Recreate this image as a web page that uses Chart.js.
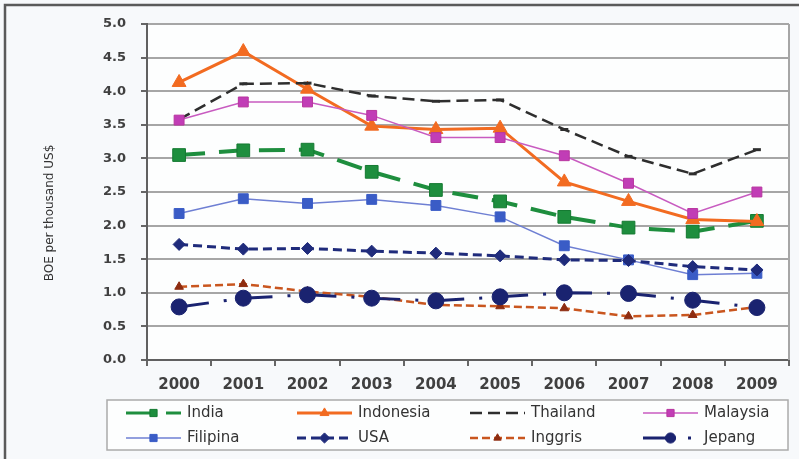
<!DOCTYPE html>
<html>
<head>
<meta charset="utf-8">
<title>BOE per thousand US$, 2000–2009</title>
<script src="https://cdn.jsdelivr.net/npm/chart.js@4/dist/chart.umd.min.js"></script>
<style>
  html, body { margin: 0; padding: 0; background: #F7F9FB; }
  #wrap { width: 799px; height: 459px; position: relative; }
  canvas { display: block; }
</style>
</head>
<body>
<div id="wrap"><canvas id="chart" width="799" height="459"></canvas></div>
<script>
// Years on the category axis
const years = ['2000', '2001', '2002', '2003', '2004', '2005', '2006', '2007', '2008', '2009'];

// Energy intensity per country (BOE per thousand US$)
const india     = [3.05, 3.12, 3.13, 2.80, 2.53, 2.36, 2.13, 1.97, 1.91, 2.07];
const indonesia = [4.13, 4.59, 4.03, 3.48, 3.43, 3.45, 2.65, 2.36, 2.09, 2.06];
const thailand  = [3.58, 4.11, 4.12, 3.93, 3.85, 3.87, 3.43, 3.03, 2.77, 3.13];
const malaysia  = [3.57, 3.84, 3.84, 3.64, 3.31, 3.31, 3.04, 2.63, 2.18, 2.50];
const filipina  = [2.18, 2.40, 2.33, 2.39, 2.30, 2.13, 1.70, 1.49, 1.27, 1.29];
const usa       = [1.72, 1.65, 1.66, 1.62, 1.59, 1.55, 1.49, 1.48, 1.39, 1.34];
const inggris   = [1.09, 1.13, 1.02, 0.94, 0.82, 0.80, 0.77, 0.65, 0.67, 0.79];
const jepang    = [0.79, 0.92, 0.97, 0.92, 0.88, 0.94, 1.00, 0.99, 0.89, 0.78];

// Country names shown in the legend
const countries = ['India', 'Indonesia', 'Thailand', 'Malaysia', 'Filipina', 'USA', 'Inggris', 'Jepang'];

// Value axis
const yMin = 0, yMax = 5, yStep = 0.5;
const yTitle = 'BOE per thousand US$';

const datasets = [
  { label: countries[0], data: india, borderColor: '#1E8E3E', borderWidth: 4, borderDash: [26, 14],
    pointStyle: 'rect', pointRadius: 9, pointBackgroundColor: '#1E8E3E', pointBorderColor: '#157A32', order: 7 },
  { label: countries[1], data: indonesia, borderColor: '#F26B21', borderWidth: 3, borderDash: [],
    pointStyle: 'triangle', pointRadius: 8, pointBackgroundColor: '#F26B21', pointBorderColor: '#F26B21', order: 6 },
  { label: countries[2], data: thailand, borderColor: '#2E2E2E', borderWidth: 2.5, borderDash: [12, 6],
    pointStyle: 'line', pointRadius: 4, pointBackgroundColor: '#2E2E2E', pointBorderColor: '#2E2E2E', pointBorderWidth: 3, order: 5 },
  { label: countries[3], data: malaysia, borderColor: '#C85BC0', borderWidth: 1.5, borderDash: [],
    pointStyle: 'rect', pointRadius: 7, pointBackgroundColor: '#C13DB6', pointBorderColor: '#B8359F', order: 4 },
  { label: countries[4], data: filipina, borderColor: '#6E7FD3', borderWidth: 1.5, borderDash: [],
    pointStyle: 'rect', pointRadius: 7, pointBackgroundColor: '#3A5CC6', pointBorderColor: '#3A5CC6', order: 3 },
  { label: countries[5], data: usa, borderColor: '#1F2B7B', borderWidth: 3, borderDash: [9, 5],
    pointStyle: 'rectRot', pointRadius: 6, pointBackgroundColor: '#1F2B7B', pointBorderColor: '#1F2B7B', order: 2 },
  { label: countries[6], data: inggris, borderColor: '#C9561F', borderWidth: 2.5, borderDash: [8, 4],
    pointStyle: 'triangle', pointRadius: 5, pointBackgroundColor: '#8E2C10', pointBorderColor: '#8E2C10', order: 1 },
  { label: countries[7], data: jepang, borderColor: '#1A2370', borderWidth: 3, borderDash: [30, 15, 3, 16],
    pointStyle: 'circle', pointRadius: 8, pointBackgroundColor: '#1A2370', pointBorderColor: '#1A2370', order: 0 }
];
datasets.forEach(d => { d.fill = false; d.tension = 0; if (d.pointBorderWidth === undefined) d.pointBorderWidth = 1; });

// Frame, plot background, y title and the 4-column legend
const decorations = {
  id: 'decorations',
  beforeDraw(chart) {
    const { ctx, chartArea: a } = chart;
    ctx.save();
    ctx.fillStyle = '#F7F9FB';
    ctx.fillRect(0, 0, chart.width, chart.height);
    ctx.fillStyle = '#FDFEFE';
    ctx.fillRect(a.left, a.top, a.right - a.left, a.bottom - a.top);
    ctx.restore();
  },
  afterDraw(chart) {
    const { ctx, chartArea: a } = chart;
    ctx.save();
    // outer frame (top and left edges)
    ctx.strokeStyle = '#5A5A5A';
    ctx.lineWidth = 2.5;
    ctx.beginPath();
    ctx.moveTo(799, 5); ctx.lineTo(5, 5); ctx.lineTo(5, 459);
    ctx.stroke();
    // right edge of plot area
    ctx.strokeStyle = '#A6A6A6';
    ctx.lineWidth = 2;
    ctx.beginPath();
    ctx.moveTo(a.right, a.top); ctx.lineTo(a.right, a.bottom);
    ctx.stroke();
    // y axis title
    ctx.translate(50, 213);
    ctx.rotate(-Math.PI / 2);
    ctx.fillStyle = '#333';
    ctx.font = '12px "DejaVu Sans"';
    ctx.textAlign = 'center';
    ctx.textBaseline = 'middle';
    ctx.fillText(yTitle, 0, 0);
    ctx.restore();

    // legend box
    ctx.save();
    ctx.fillStyle = '#FDFEFE';
    ctx.fillRect(107, 400, 681, 50);
    ctx.strokeStyle = '#ABABAB';
    ctx.lineWidth = 1.5;
    ctx.strokeRect(107, 400, 681, 50);
    const cols = [126, 297, 470, 643];
    const rows = [413, 438];
    const sample = 55;
    chart.data.datasets.forEach((ds, i) => {
      const x0 = cols[i % 4], y = rows[Math.floor(i / 4)];
      ctx.save();
      ctx.strokeStyle = ds.borderColor;
      ctx.lineWidth = Math.min(ds.borderWidth, 3);
      ctx.setLineDash(ds.borderDash || []);
      ctx.beginPath();
      ctx.moveTo(x0, y); ctx.lineTo(x0 + sample, y);
      ctx.stroke();
      ctx.restore();
      if (ds.pointStyle !== 'line') {
        ctx.save();
        ctx.fillStyle = ds.pointBackgroundColor;
        ctx.strokeStyle = ds.pointBorderColor;
        ctx.lineWidth = 1;
        Chart.helpers.drawPoint(ctx, { pointStyle: ds.pointStyle, radius: Math.min(ds.pointRadius, 6) * 0.85, rotation: 0, borderWidth: 1 }, x0 + sample / 2, y);
        ctx.restore();
      }
      ctx.fillStyle = '#333';
      ctx.font = '15px "DejaVu Sans"';
      ctx.textAlign = 'left';
      ctx.textBaseline = 'middle';
      ctx.fillText(ds.label, x0 + sample + 6, y);
    });
    ctx.restore();
  }
};

new Chart(document.getElementById('chart'), {
  type: 'line',
  data: { labels: years, datasets },
  options: {
    responsive: false,
    animation: false,
    devicePixelRatio: 1,
    layout: { padding: { top: 24, right: 9, bottom: 0, left: 0 } },
    plugins: { legend: { display: false }, tooltip: { enabled: false } },
    scales: {
      x: {
        type: 'category',
        offset: true,
        grid: { drawOnChartArea: false, offset: true, tickLength: 6, tickColor: '#666', lineWidth: 2 },
        border: { display: true, color: '#606060', width: 2 },
        ticks: { color: '#404040', font: { family: 'DejaVu Sans', size: 15, weight: 'bold' }, padding: 10, maxRotation: 0 },
        afterFit(scale) { scale.height = 99; }
      },
      y: {
        min: yMin, max: yMax,
        grid: { color: '#A6A6A6', lineWidth: 2, tickLength: 6, tickColor: '#666' },
        border: { display: true, color: '#606060', width: 2 },
        ticks: { stepSize: yStep, color: '#404040', font: { family: 'DejaVu Sans', size: 13, weight: 'bold' }, padding: 15,
                 callback: v => Number(v).toFixed(1) },
        afterFit(scale) { scale.width = 147; }
      }
    }
  },
  plugins: [decorations]
});
</script>
</body>
</html>
